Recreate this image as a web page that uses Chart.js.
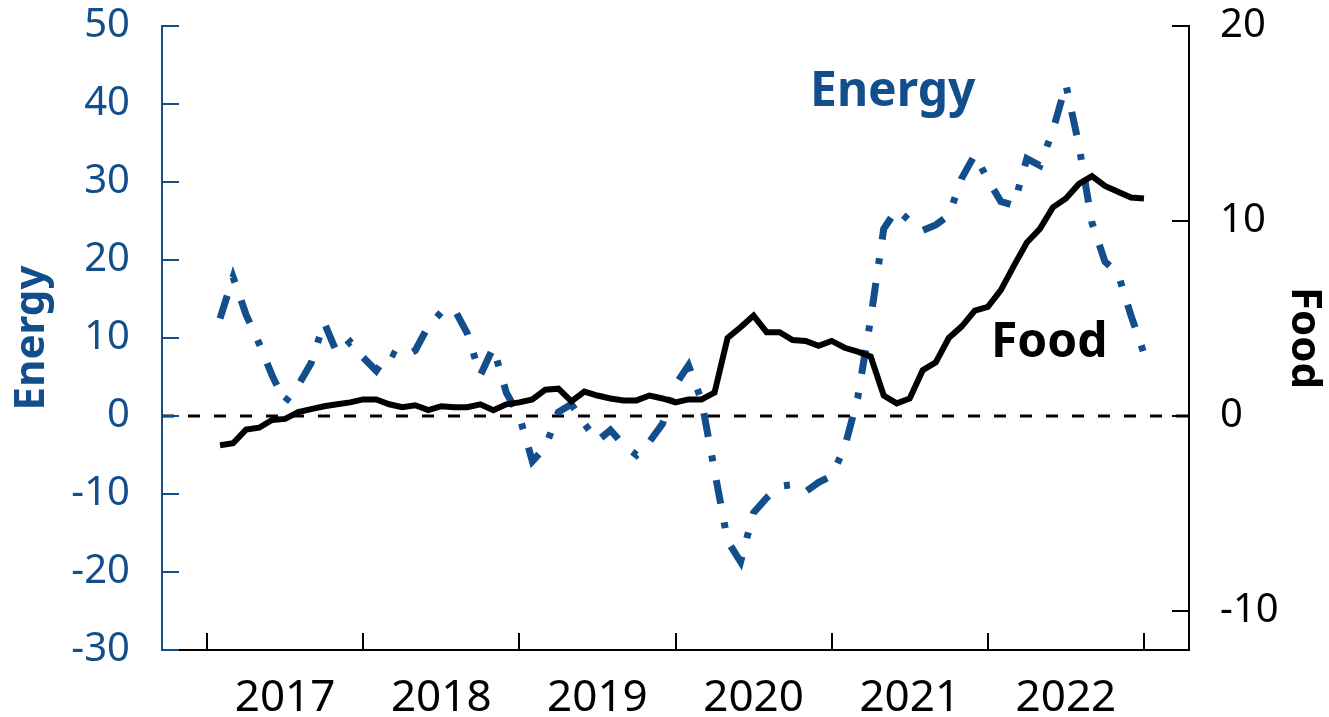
<!DOCTYPE html>
<html>
<head>
<meta charset="utf-8">
<script src="https://cdn.jsdelivr.net/npm/chart.js@4.4.1/dist/chart.umd.min.js"></script>
<style>
html, body { margin: 0; padding: 0; background: #fff; }
</style>
</head>
<body>
<canvas id="chart" width="1329" height="717"></canvas>
<script>
// monthly, Jan 2017 .. Dec 2022
const years = ['2017', '2018', '2019', '2020', '2021', '2022'];

const energy = [
  12.5, 17.8, 13.0, 9.3, 5.2, 1.8, 3.9, 6.8, 12.0, 8.0, 9.5, 7.5,
  5.8, 8.2, 7.4, 8.4, 11.5, 13.3, 13.7, 10.6, 5.2, 8.8, 3.0, 0.0,
  -5.8, -4.0, 0.5, 1.5, -1.0, -3.2, -1.8, -3.7, -5.0, -3.3, -1.0, 4.0,
  6.5, 2.0, -7.0, -16.0, -18.7, -12.4, -10.5, -9.0, -8.8, -9.7, -8.5, -7.7,
  -4.0, 2.3, 12.5, 24.0, 26.5, 25.0, 23.8, 24.5, 25.7, 30.5, 33.5, 30.3,
  27.5, 27.0, 33.0, 32.1, 36.6, 42.5, 34.7, 24.8, 19.8, 18.3, 12.9, 8.0
];

const food = [
  -1.5, -1.4, -0.7, -0.6, -0.2, -0.15, 0.2, 0.35, 0.5, 0.6, 0.7, 0.85,
  0.85, 0.6, 0.45, 0.55, 0.3, 0.5, 0.45, 0.45, 0.6, 0.3, 0.6, 0.7,
  0.85, 1.35, 1.4, 0.75, 1.25, 1.05, 0.9, 0.8, 0.8, 1.05, 0.9, 0.7,
  0.85, 0.85, 1.2, 4.0, 4.55, 5.15, 4.3, 4.3, 3.9, 3.85, 3.6, 3.85,
  3.5, 3.3, 3.05, 1.05, 0.65, 0.9, 2.35, 2.75, 4.0, 4.6, 5.4, 5.6,
  6.45, 7.7, 8.9, 9.6, 10.7, 11.15, 11.9, 12.3, 11.8, 11.5, 11.2, 11.15
];

const energyTicks = [-30, -20, -10, 0, 10, 20, 30, 40, 50];
const foodTicks = [-10, 0, 10, 20];

const blue = '#124e8c';
const xMin = -3.46, xMax = 75.46;

// x = months since start of 2017 (point sits at month end)
const toPoints = arr => arr.map((v, i) => ({ x: i + 1, y: v }));

const tickMarks = {
  id: 'tickMarks',
  afterDraw(chart) {
    const ctx = chart.ctx, a = chart.chartArea, s = chart.scales;
    ctx.save();
    ctx.lineWidth = 2;
    ctx.beginPath();
    ctx.strokeStyle = '#000';
    for (let i = 0; i <= years.length; i++) {
      const x = Math.round(s.x.getPixelForValue(i * 12));
      ctx.moveTo(x, a.bottom);
      ctx.lineTo(x, a.bottom - 17);
    }
    foodTicks.forEach(v => {
      const y = Math.round(s.y2.getPixelForValue(v));
      ctx.moveTo(a.right - 17, y);
      ctx.lineTo(a.right, y);
    });
    ctx.stroke();
    ctx.beginPath();
    ctx.strokeStyle = blue;
    energyTicks.forEach(v => {
      const y = Math.round(s.y.getPixelForValue(v));
      ctx.moveTo(a.left, y);
      ctx.lineTo(a.left + 17, y);
    });
    ctx.stroke();

    // series labels inside the plot
    ctx.font = 'bold 48px "Noto Sans"';
    ctx.textBaseline = 'alphabetic';
    ctx.fillStyle = blue;
    ctx.fillText('Energy', 810, 106);
    ctx.fillStyle = '#000';
    ctx.fillText('Food', 991, 357);
    ctx.restore();
  }
};

// label offset via invisible tick marks, so it does not pad the top
const sideGrid = len => ({ display: true, drawOnChartArea: false, drawTicks: true, tickLength: len, tickColor: 'transparent' });

new Chart(document.getElementById('chart'), {
  type: 'line',
  data: {
    datasets: [{
      label: 'Food',
      data: toPoints(food),
      yAxisID: 'y2',
      borderColor: '#000',
      borderWidth: 6,
      pointRadius: 0,
      tension: 0
    }, {
      label: 'Energy',
      data: toPoints(energy),
      yAxisID: 'y',
      borderColor: blue,
      borderWidth: 7,
      borderDash: [24, 19, 6, 19],
      borderCapStyle: 'butt',
      pointRadius: 0,
      tension: 0
    }, {
      label: 'zero',
      data: [{ x: xMin, y: 0 }, { x: xMax, y: 0 }],
      yAxisID: 'y',
      borderColor: '#000',
      borderWidth: 3,
      borderDash: [12, 14],
      pointRadius: 0
    }]
  },
  options: {
    responsive: false,
    animation: false,
    layout: { padding: { top: 26, left: 0, right: 0, bottom: 0 } },
    plugins: { legend: { display: false }, tooltip: { enabled: false } },
    scales: {
      x: {
        type: 'linear',
        min: xMin,
        max: xMax,
        grid: { display: false },
        border: { color: '#000', width: 2 },
        afterBuildTicks: sc => { sc.ticks = years.map((y, i) => ({ value: i * 12 + 6 })); },
        afterFit: sc => { sc.height = 67; },
        ticks: {
          autoSkip: false,
          maxRotation: 0,
          padding: 14,
          color: '#000',
          font: { family: 'Noto Sans', size: 44 },
          callback: (v, i) => years[i]
        }
      },
      y: {
        position: 'left',
        min: -30,
        max: 50,
        grid: sideGrid(32),
        border: { color: blue, width: 2 },
        afterBuildTicks: sc => { sc.ticks = energyTicks.map(v => ({ value: v })); },
        afterFit: sc => { sc.width = 162; },
        ticks: {
          padding: 0,
          color: blue,
          font: { family: 'Noto Sans', size: 40, lineHeight: 1 }
        },
        title: {
          display: true,
          text: 'Energy',
          color: blue,
          padding: { top: 7, bottom: 0 },
          font: { family: 'Noto Sans', size: 42, weight: 'bold' }
        }
      },
      y2: {
        position: 'right',
        min: -12,
        max: 20,
        grid: sideGrid(31),
        border: { color: '#000', width: 2 },
        afterBuildTicks: sc => { sc.ticks = foodTicks.map(v => ({ value: v })); },
        afterFit: sc => { sc.width = 140; },
        ticks: {
          padding: 0,
          color: '#000',
          font: { family: 'Noto Sans', size: 40, lineHeight: 1 }
        },
        title: {
          display: true,
          text: 'Food',
          color: '#000',
          padding: 0,
          font: { family: 'Noto Sans', size: 42, weight: 'bold' }
        }
      }
    }
  },
  plugins: [tickMarks]
});
</script>
</body>
</html>
